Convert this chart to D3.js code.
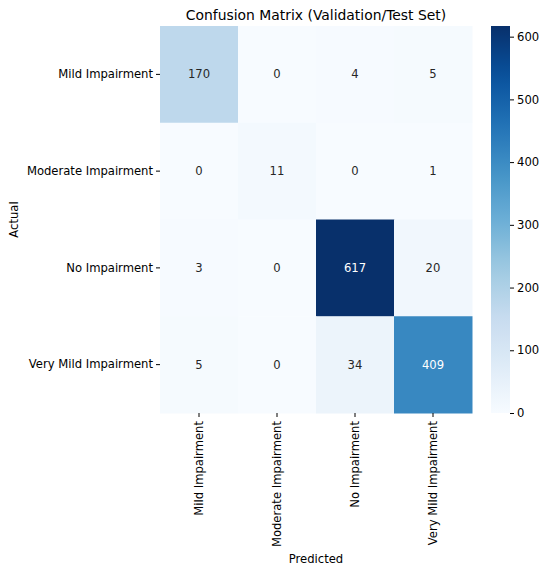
<!DOCTYPE html>
<html><head><meta charset="utf-8">
<script src="https://cdn.jsdelivr.net/npm/d3@7"></script>
<style>
body{margin:0;background:#fff;}
text{font-family:"DejaVu Sans",sans-serif;}
</style></head>
<body><svg id="c" width="548" height="573"></svg>
<script>
const labels = ["Mild Impairment","Moderate Impairment","No Impairment","Very Mild Impairment"];
const matrix = [
  [170, 0, 4, 5],
  [0, 11, 0, 1],
  [3, 0, 617, 20],
  [5, 0, 34, 409]
];
const cbTicks = [0,100,200,300,400,500,600];
const blues = ["#f7fbff","#deebf7","#c6dbef","#9ecae1","#6baed6","#4292c6","#2171b5","#08519c","#08306b"];

const svg = d3.select("#c");
const L=160, R=472, T=26, B=413;
const FS=11.6;
const vmax = d3.max(matrix.flat());
const color = d3.scaleLinear().domain(blues.map((_,i)=>i/(blues.length-1)*vmax)).range(blues).interpolate(d3.interpolateRgb);
const x = d3.scaleBand().domain(labels).range([L,R]);
const y = d3.scaleBand().domain(labels).range([T,B]);

const cells = [];
matrix.forEach((row,i)=>row.forEach((v,j)=>cells.push({r:labels[i],c:labels[j],v})));
svg.append("g").selectAll("rect").data(cells).join("rect")
  .attr("x",d=>x(d.c)).attr("y",d=>y(d.r))
  .attr("width",x.bandwidth()+0.5).attr("height",y.bandwidth()+0.5)
  .attr("fill",d=>color(d.v));
function lum(c){const r=d3.rgb(c);const f=v=>{v/=255;return v<=0.03928?v/12.92:Math.pow((v+0.055)/1.055,2.4);};return 0.2126*f(r.r)+0.7152*f(r.g)+0.0722*f(r.b);}
svg.append("g").selectAll("text").data(cells).join("text")
  .attr("x",d=>x(d.c)+x.bandwidth()/2).attr("y",d=>y(d.r)+y.bandwidth()/2)
  .attr("text-anchor","middle").attr("dominant-baseline","central")
  .attr("font-size",FS)
  .attr("fill",d=>lum(color(d.v))<0.408?"#ffffff":"#262626")
  .text(d=>d.v);

// axes
const xa = svg.append("g").attr("transform",`translate(0,${B})`)
  .call(d3.axisBottom(x).tickSize(4).tickPadding(3));
xa.select(".domain").remove();
xa.selectAll("text").attr("transform","rotate(-90)").attr("text-anchor","end")
  .attr("x",-8).attr("y",0).attr("dy","0.35em").attr("font-size",FS).attr("fill","#000").attr("font-family","DejaVu Sans");
const ya = svg.append("g").attr("transform",`translate(${L},0)`)
  .call(d3.axisLeft(y).tickSize(4).tickPadding(3));
ya.select(".domain").remove();
ya.selectAll("text").attr("font-size",FS).attr("fill","#000").attr("font-family","DejaVu Sans");

svg.append("text").attr("x",(L+R)/2).attr("y",20).attr("text-anchor","middle")
  .attr("font-size",13.9).attr("fill","#000").text("Confusion Matrix (Validation/Test Set)");
svg.append("text").attr("x",(L+R)/2).attr("y",563).attr("text-anchor","middle")
  .attr("font-size",FS).attr("fill","#000").text("Predicted");
svg.append("text").attr("transform",`translate(18,${(T+B)/2}) rotate(-90)`).attr("text-anchor","middle")
  .attr("font-size",FS).attr("fill","#000").text("Actual");

// colorbar
const CL=491, CR=510;
const cy = d3.scaleLinear().domain([0,vmax]).range([B,T]);
const defs = svg.append("defs");
const grad = defs.append("linearGradient").attr("id","cbg").attr("x1",0).attr("x2",0).attr("y1",1).attr("y2",0);
d3.range(0,1.0001,0.05).forEach(t=>grad.append("stop").attr("offset",t).attr("stop-color",color(t*vmax)));
svg.append("rect").attr("x",CL).attr("y",T).attr("width",CR-CL).attr("height",B-T).attr("fill","url(#cbg)");
const ca = svg.append("g").attr("transform",`translate(${CR},0)`)
  .call(d3.axisRight(cy).tickValues(cbTicks).tickSize(4).tickPadding(3));
ca.select(".domain").remove();
ca.selectAll("text").attr("font-size",FS).attr("fill","#000").attr("font-family","DejaVu Sans");
</script></body></html>
